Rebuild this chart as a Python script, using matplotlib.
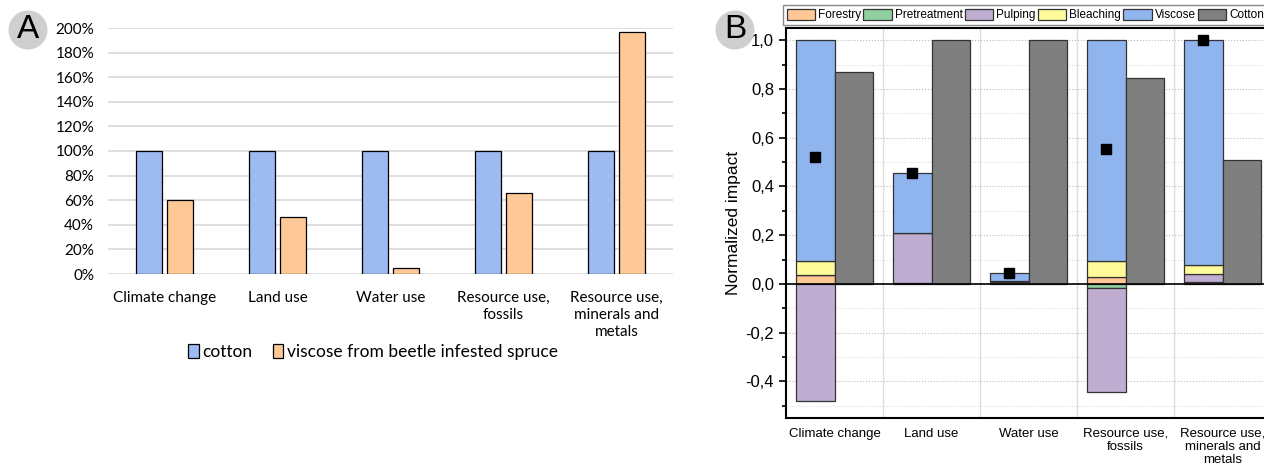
import numpy as np
import matplotlib.pyplot as plt
from matplotlib.ticker import MultipleLocator, FuncFormatter

# panel A data
cats_a = ['Climate change', 'Land use', 'Water use', 'Resource use,\nfossils',
          'Resource use,\nminerals and\nmetals']
cotton_a = [1.00, 1.00, 1.00, 1.00, 1.00]
viscose_a = [0.60, 0.46, 0.05, 0.66, 1.97]

# panel B data (normalized impact)
cats_b = ['Climate change', 'Land use', 'Water use', 'Resource use,\nfossils',
          'Resource use,\nminerals and\nmetals']
forestry = [0.035, 0.005, 0.008, 0.030, 0.008]
pretreatment = [0.003, 0.0, 0.0, -0.015, 0.0]
pulping = [-0.480, 0.205, 0.004, -0.430, 0.032]
bleaching = [0.057, 0.0, 0.0, 0.063, 0.038]
viscose = [0.905, 0.245, 0.033, 0.907, 0.922]
cotton_b = [0.87, 1.00, 1.00, 0.845, 0.51]

stages = ['Forestry', 'Pretreatment', 'Pulping', 'Bleaching', 'Viscose']
stage_vals = [forestry, pretreatment, pulping, bleaching, viscose]
stage_cols = ['#FFC896', '#90D0A0', '#C0AED2', '#FFFA9A', '#8FB4EE']

fig = plt.figure(figsize=(12.64, 4.68), dpi=100)

# ---------------- panel A
axA = fig.add_axes([108/1264, 1-274/468, 565/1264, 246/468])
x = np.arange(len(cats_a))
axA.bar(x - 0.14, cotton_a, 0.23, color='#9DBBF0', edgecolor='black', lw=0.9,
        label='cotton', zorder=3)
axA.bar(x + 0.14, viscose_a, 0.23, color='#FFC897', edgecolor='black', lw=0.9,
        label='viscose from beetle infested spruce', zorder=3)
axA.set_xlim(-0.5, 4.5)
axA.set_ylim(0, 2.0)
axA.set_yticks(np.arange(0, 2.01, 0.2))
axA.yaxis.set_major_formatter(FuncFormatter(lambda v, p: f'{v*100:.0f}%'))
axA.grid(axis='y', color='#D9D9D9', lw=1.2, zorder=0)
for s in axA.spines.values():
    s.set_visible(False)
axA.tick_params(length=0, labelsize=11, pad=10)
axA.tick_params(axis='x', pad=12)
axA.set_xticks(x)
axA.set_xticklabels(cats_a, fontsize=11, family='Lato', linespacing=1.3)
for t in axA.get_yticklabels():
    t.set_family('Lato')
axA.legend(loc='center', bbox_to_anchor=(373/1264, 1-352/468), bbox_transform=fig.transFigure,
           ncol=2, frameon=False, prop={'family': 'Lato', 'size': 12.5},
           handlelength=0.6, handleheight=0.9, handletextpad=0.2, columnspacing=1.2)
fig.text(28/1264, 1-30/468, 'A', fontsize=24, ha='center', va='center', family='Liberation Sans',
         bbox=dict(boxstyle='circle,pad=0.12', fc='#CFCFCF', ec='none'))

# ---------------- panel B
axB = fig.add_axes([786/1264, 1-418/468, 485/1264, 390/468])
xb = np.arange(len(cats_b))
pos = np.zeros(len(cats_b))
neg = np.zeros(len(cats_b))
for name, vals, col in zip(stages, stage_vals, stage_cols):
    vals = np.array(vals)
    bottom = np.where(vals >= 0, pos, neg)
    axB.bar(xb - 0.2, vals, 0.4, bottom=bottom, color=col, edgecolor='#333333', lw=0.9,
            label=name, zorder=3)
    pos = pos + np.where(vals >= 0, vals, 0)
    neg = neg + np.where(vals < 0, vals, 0)
axB.bar(xb + 0.2, cotton_b, 0.4, color='#7F7F7F', edgecolor='#333333', lw=0.9,
        label='Cotton', zorder=3)
net = pos + neg
axB.plot(xb - 0.2, net, 's', color='black', ms=7, zorder=5)
axB.axhline(0, color='black', lw=1.2, zorder=4)

axB.set_xlim(-0.5, 4.5)
axB.set_ylim(-0.55, 1.05)
axB.yaxis.set_major_locator(MultipleLocator(0.2))
axB.yaxis.set_minor_locator(MultipleLocator(0.1))
axB.yaxis.set_major_formatter(FuncFormatter(lambda v, p: f'{v:.1f}'.replace('.', ',')))
axB.grid(axis='y', which='major', color='#BBBBBB', ls=':', lw=0.8, zorder=0)
axB.grid(axis='y', which='minor', color='#DDDDDD', ls=':', lw=0.8, zorder=0)
for b in np.arange(0.5, 4.5, 1):
    axB.axvline(b, color='#DDDDDD', lw=1.0, zorder=0)
axB.set_xticks(xb)
axB.set_xticklabels(cats_b, fontsize=9.5, family='Liberation Sans', linespacing=1.15)
axB.tick_params(axis='x', length=0, pad=7)
axB.tick_params(axis='y', which='major', length=5, width=1.2, labelsize=12, direction='out')
axB.tick_params(axis='y', which='minor', length=3, width=1.2, direction='out')
for t in axB.get_yticklabels():
    t.set_family('Liberation Sans')
for s in axB.spines.values():
    s.set_linewidth(1.5)
axB.set_ylabel('Normalized impact', fontsize=12.5, family='Liberation Sans', labelpad=3)

handles, labels = axB.get_legend_handles_labels()
fig.legend(handles, labels, loc='upper left', bbox_to_anchor=(783/1264, 1-5/468), ncol=6,
           prop={'family': 'Liberation Sans', 'size': 8.5}, frameon=True, fancybox=False,
           edgecolor='#888888', framealpha=1, borderpad=0.3, handlelength=2.4,
           handleheight=1.1, handletextpad=0.25, columnspacing=0.2, borderaxespad=0)
fig.text(735/1264, 1-30/468, 'B', fontsize=24, ha='center', va='center', family='Liberation Sans',
         bbox=dict(boxstyle='circle,pad=0.12', fc='#CFCFCF', ec='none'))

fig.savefig('out.png', dpi=100)
